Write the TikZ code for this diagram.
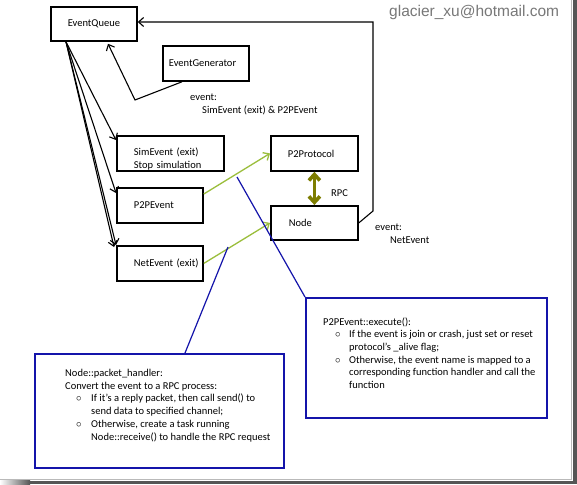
\documentclass[tikz,border=0pt]{standalone}
\usepackage{fontspec}
\setmainfont{Carlito}
\newfontfamily\mailfont{Liberation Sans}
\usetikzlibrary{arrows.meta,calc}
\definecolor{boxblue}{RGB}{20,20,170}
\definecolor{lgreen}{RGB}{155,190,60}
\definecolor{olivedk}{RGB}{125,125,0}
\definecolor{mailgray}{RGB}{120,120,120}
\definecolor{shadowgray}{RGB}{85,85,85}
\begin{document}
\begin{tikzpicture}[x=1pt,y=-1pt,
  every node/.style={font=\fontsize{10.5}{12.7}\selectfont},
  box/.style={draw=black, line width=1.8pt, anchor=north west, inner ysep=0pt},
  bluebox/.style={draw=boxblue, line width=1.8pt, anchor=north west, inner sep=0pt},
  arr/.style={line width=1.1pt, -{Straight Barb[length=5pt,width=9pt]}},
  garr/.style={draw=lgreen, line width=1.3pt, -{Straight Barb[length=5pt,width=9pt]}},
  oarr/.style={draw=olivedk, line width=3.6pt, {Straight Barb[length=6pt,width=11pt]}-{Straight Barb[length=6pt,width=11pt]}},
  bline/.style={draw=boxblue, line width=1.2pt},
  lbl/.style={anchor=base west, align=left, inner sep=0pt},
]
\useasboundingbox (0,0) rectangle (577,484);
\fill[white] (0,0) rectangle (577,484);

% frame shadow
\draw[gray!55, line width=0.8pt] (571.5,0) -- (571.5,479.2) -- (0,479.2);
\fill[shadowgray] (573,0) rectangle (577,484);
\shade[left color=white, right color=shadowgray] (0,480.5) rectangle (30,484);
\fill[shadowgray] (30,480.5) rectangle (577,484);

% email
\node[lbl, font=\mailfont\fontsize{15.5}{18}\selectfont, text=mailgray] (mail) at (389,16.5) {glacier\_xu@hotmail.com};

% black boxes
\node[box, minimum width=86pt, minimum height=34pt] (eq) at (50,6) {EventQueue};
\node[box, minimum width=86pt, minimum height=35pt, inner xsep=6pt, text width=74pt, align=left] (eg) at (162,45) {EventGenerator};
\node[box, minimum width=107pt, minimum height=35pt, inner xsep=17pt, text width=73pt, align=left] (sim) at (116,135) {\rule{0pt}{19pt}SimEvent (exit)\\Stop simulation};
\node[box, minimum width=86pt, minimum height=35pt, inner xsep=17pt, text width=52pt, align=left] (p2p) at (116,187) {P2PEvent};
\node[box, minimum width=86pt, minimum height=35pt, inner xsep=3pt, text width=80pt, align=left] (net) at (116,245) {\hspace*{14pt}NetEvent (exit)};
\node[box, minimum width=87pt, minimum height=35pt, inner xsep=17pt, text width=53pt, align=left] (pp) at (270,135) {P2Protocol};
\node[box, minimum width=87pt, minimum height=34pt, inner xsep=18pt, text width=51pt, align=left] (nd) at (270,205) {Node};

% labels (base = baseline of last line)
\node[lbl] (ev1) at (190,113.5) {event:\\\hspace*{12pt}SimEvent (exit) \& P2PEvent};
\node[lbl] (ev2) at (375,243) {event:\\\hspace*{15pt}NetEvent};
\node[lbl] (rpc) at (331,196.5) {RPC};

% blue boxes
\node[bluebox, minimum width=249pt, minimum height=114pt] (lb) at (34,353) {};
\node[bluebox, minimum width=241pt, minimum height=120pt] (rb) at (305,297) {};
\node[lbl] (lt) at (65,440) {Node::packet\_handler:\\
Convert the event to a RPC process:\\
\makebox[26pt][l]{\hspace*{11pt}$\circ$}If it's a reply packet, then call send() to\\
\hspace*{26pt}send data to specified channel;\\
\makebox[26pt][l]{\hspace*{11pt}$\circ$}Otherwise, create a task running\\
\hspace*{26pt}Node::receive() to handle the RPC request};
\node[lbl] (rt) at (323,388.5) {P2PEvent::execute():\\
\makebox[26pt][l]{\hspace*{12pt}$\circ$}If the event is join or crash, just set or reset\\
\hspace*{26pt}protocol's \_alive flag;\\
\makebox[26pt][l]{\hspace*{12pt}$\circ$}Otherwise, the event name is mapped to a\\
\hspace*{26pt}corresponding function handler and call the\\
\hspace*{26pt}function};

% coordinates
\coordinate (e1) at (135,100);
\coordinate (c1) at (373,211);
\coordinate (c2) at (373,22);
\coordinate (b1) at (237,177);
\coordinate (b2) at (228,247);

% connectors
\draw[arr] ([xshift=16pt]eq.south west) -- ([yshift=-5pt]sim.north west);
\draw[arr] ([xshift=16pt]eq.south west) -- ([yshift=-6pt]p2p.north west);
\draw[arr] ([xshift=16pt]eq.south west) -- (net.north west);
\draw[arr] ([xshift=16pt]eq.south west) -- ([xshift=-2pt,yshift=-2pt]net.north west);
\draw[arr] ([xshift=20pt]eg.south west) -- (e1) -- ([xshift=58pt,yshift=-2pt]eq.south west);
\draw[arr] (nd.east) -- (c1) -- (c2) -- (eq.east |- c2);
\draw[garr] ([yshift=-7pt]p2p.north east) -- (pp.west);
\draw[garr] (net.east) -- (nd.west);
\draw[oarr] (pp.south) -- (nd.north);
\draw[bline] (b1) -- (rb.north west);
\draw[bline] (b2) -- ([xshift=151pt]lb.north west);
\end{tikzpicture}
\end{document}
